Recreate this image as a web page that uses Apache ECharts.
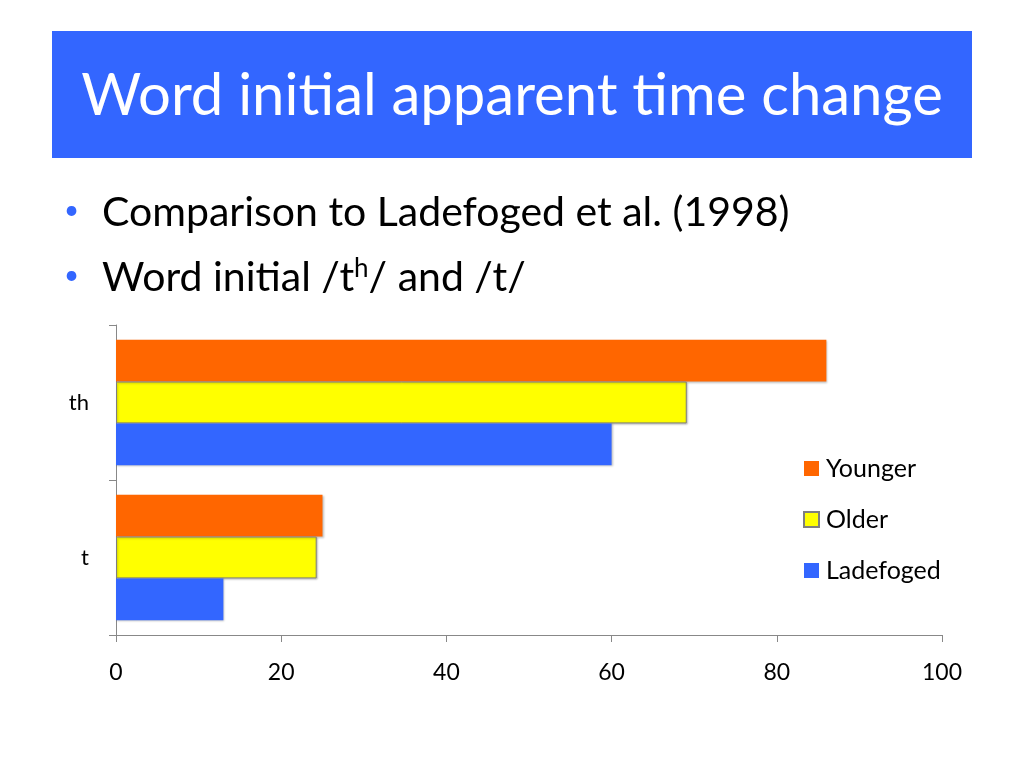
<!DOCTYPE html>
<html lang="en">
<head>
    <meta charset="UTF-8">
    <title>Word initial apparent time change</title>
    <script src="https://cdn.jsdelivr.net/npm/echarts@6/dist/echarts.min.js"></script>
    <style>
        html, body { margin: 0; padding: 0; background: #fff; }
    </style>
</head>
<body>
<div id="main" style="height:768px;width:1024px"></div>

<script type="text/javascript">
    // data
    var categories = ['t', 'th'];
    var seriesNames = ['Younger', 'Older', 'Ladefoged'];
    var younger = [25, 86];
    var older = [24.3, 69.1];
    var ladefoged = [13, 60];
    var xTicks = [0, 20, 40, 60, 80, 100];

    var font = 'Lato, "Open Sans", sans-serif';

    var myChart = echarts.init(document.getElementById('main'));
    myChart.setOption({
        animation: false,
        textStyle: { fontFamily: font },
        graphic: [
            {
                type: 'rect',
                shape: { x: 52, y: 31, width: 920, height: 127 },
                style: { fill: '#3366ff' }
            },
            {
                type: 'text',
                x: 512, y: 96,
                style: {
                    text: 'Word initial apparent time change',
                    fill: '#fff', font: '58px ' + font,
                    align: 'center', verticalAlign: 'middle'
                }
            },
            {
                type: 'text',
                x: 64, y: 211,
                style: { text: '•', fill: '#3366ff', font: '26px ' + font, verticalAlign: 'middle' }
            },
            {
                type: 'text',
                x: 102, y: 213,
                style: {
                    text: 'Comparison to Ladefoged et al. (1998)',
                    fill: '#000', font: '41px ' + font, verticalAlign: 'middle'
                }
            },
            {
                type: 'text',
                x: 64, y: 276,
                style: { text: '•', fill: '#3366ff', font: '26px ' + font, verticalAlign: 'middle' }
            },
            {
                type: 'text',
                x: 102, y: 278,
                style: {
                    text: '{a|Word initial /t}{s|h}{a|/ and /t/}',
                    verticalAlign: 'middle',
                    rich: {
                        a: { fill: '#000', fontSize: 41, fontFamily: font, lineHeight: 46 },
                        s: { fill: '#000', fontSize: 26, fontFamily: font, lineHeight: 46, padding: [0, 0, 18, 0] }
                    }
                }
            }
        ],
        legend: {
            orient: 'vertical',
            left: 798,
            top: 451,
            itemGap: 26,
            itemWidth: 15,
            itemHeight: 15,
            icon: 'rect',
            textStyle: { fontSize: 25, color: '#000', fontFamily: font, padding: [0, 0, 0, 2] },
            data: seriesNames
        },
        grid: { left: 116, right: 82, top: 325, bottom: 133, containLabel: false },
        xAxis: {
            type: 'value',
            min: 0, max: 100, interval: 20,
            axisLine: { show: true, lineStyle: { color: '#888' } },
            axisTick: { show: true, length: 7, lineStyle: { color: '#888' } },
            splitLine: { show: false },
            axisLabel: {
                margin: 26, fontSize: 23, color: '#000', fontFamily: font,
                formatter: function (v) { return xTicks.indexOf(v) >= 0 ? String(v) : ''; }
            }
        },
        yAxis: {
            type: 'category',
            data: categories,
            axisLine: { show: true, lineStyle: { color: '#888' } },
            axisTick: { show: true, length: 7, lineStyle: { color: '#888' } },
            axisLabel: { margin: 27, fontSize: 22, color: '#000', fontFamily: font }
        },
        series: [
            {
                name: 'Younger', type: 'bar', data: younger,
                barGap: '0%', barCategoryGap: '19%',
                itemStyle: { color: '#ff6600', shadowColor: 'rgba(0,0,0,0.25)', shadowBlur: 2, shadowOffsetX: 1, shadowOffsetY: 1 }
            },
            {
                name: 'Older', type: 'bar', data: older,
                barGap: '0%', barCategoryGap: '19%',
                itemStyle: { color: '#ffff00', borderColor: '#7f7f7f', borderWidth: 1, shadowColor: 'rgba(0,0,0,0.25)', shadowBlur: 2, shadowOffsetX: 1, shadowOffsetY: 1 }
            },
            {
                name: 'Ladefoged', type: 'bar', data: ladefoged,
                barGap: '0%', barCategoryGap: '19%',
                itemStyle: { color: '#3366ff', shadowColor: 'rgba(0,0,0,0.25)', shadowBlur: 2, shadowOffsetX: 1, shadowOffsetY: 1 }
            }
        ]
    });
</script>
</body>
</html>
